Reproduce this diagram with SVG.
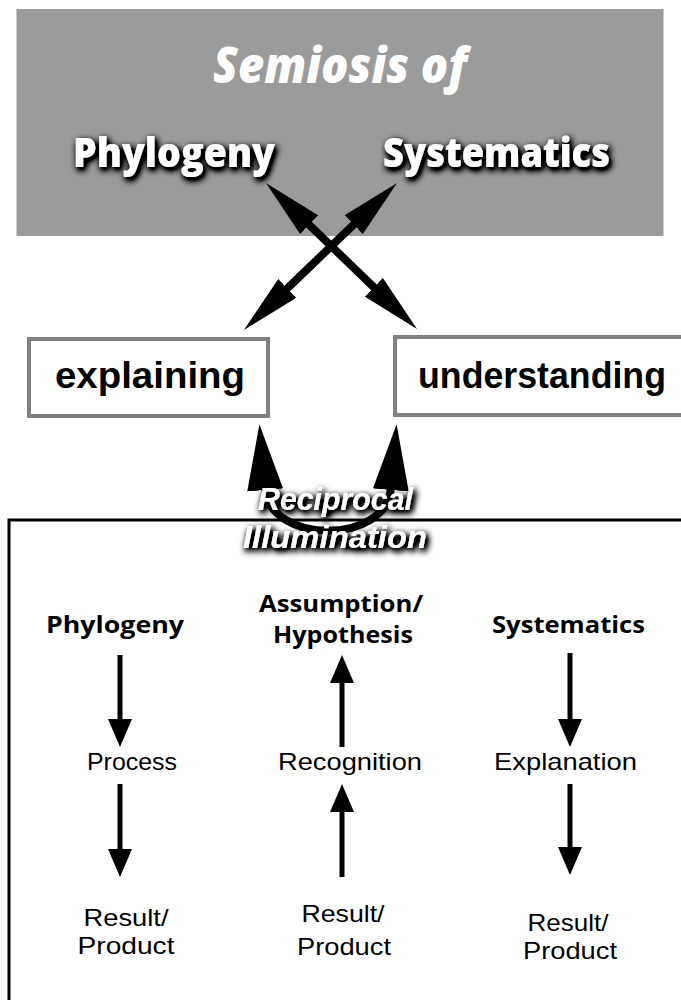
<svg xmlns="http://www.w3.org/2000/svg" width="681" height="1000" viewBox="0 0 681 1000">
  <style>
    .sans { font-family: "Open Sans", "Noto Sans", "Liberation Sans", sans-serif; }
    .tight { font-family: "Liberation Sans", Arial, sans-serif; }
    .title { font-weight: 800; font-style: italic; fill: #ffffff; }
    .head { font-weight: 800; fill: #ffffff; }
    .boxlabel { font-weight: 700; fill: #000000; font-size: 37px; }
    .colhead { font-weight: 700; fill: #000000; font-size: 23px; }
    .step { font-weight: 400; fill: #000000; font-size: 24px; }
    .box { fill: #ffffff; stroke: #808080; stroke-width: 4; }
    .frame { fill: none; stroke: #000000; stroke-width: 3; }
    .big { fill: none; stroke: #000000; stroke-width: 8; }
    .thin { fill: none; stroke: #000000; stroke-width: 5; }
  </style>
  <defs>
    <!-- dark soft halo under white lettering -->
    <filter id="halo" x="-20%" y="-40%" width="140%" height="180%">
      <feGaussianBlur in="SourceAlpha" stdDeviation="3.5"/>
      <feOffset dx="2" dy="3"/>
      <feComponentTransfer><feFuncA type="linear" slope="2.2"/></feComponentTransfer>
      <feMerge><feMergeNode/><feMergeNode in="SourceGraphic"/></feMerge>
    </filter>
    <!-- long heads for the crossing double arrows -->
    <marker id="headX" markerUnits="userSpaceOnUse" viewBox="0 -13 60 26" refX="2" refY="0" markerWidth="60" markerHeight="26" orient="auto-start-reverse">
      <path d="M0,-13 L60,0 L0,13 z" fill="#000"/>
    </marker>
    <!-- heads on the reciprocal loop -->
    <marker id="headR" markerUnits="userSpaceOnUse" viewBox="0 -18 66 36" refX="2" refY="0" markerWidth="66" markerHeight="36" orient="auto-start-reverse">
      <path d="M0,-18 L66,0 L0,18 z" fill="#000"/>
    </marker>
    <!-- small heads in the lower panel -->
    <marker id="headS" markerUnits="userSpaceOnUse" viewBox="0 -12 28 24" refX="1" refY="0" markerWidth="28" markerHeight="24" orient="auto">
      <path d="M0,-12 L28,0 L0,12 z" fill="#000"/>
    </marker>
  </defs>

  <!-- lower panel frame -->
  <g id="panel-frame">
    <path class="frame" d="M9,1000 V520 H681"/>
  </g>

  <!-- header band -->
  <g id="semiosis">
    <rect x="16.5" y="9" width="647" height="227" fill="#9b9b9b"/>
    <text class="sans title" x="340" y="83" font-size="50" text-anchor="middle" textLength="254" lengthAdjust="spacingAndGlyphs">Semiosis of</text>
  </g>
  <g id="top-phylogeny">
    <text class="sans head" x="174" y="167" font-size="41" text-anchor="middle" textLength="202" lengthAdjust="spacingAndGlyphs" filter="url(#halo)">Phylogeny</text>
  </g>
  <g id="top-systematics">
    <text class="sans head" x="496.5" y="167" font-size="41" text-anchor="middle" textLength="227" lengthAdjust="spacingAndGlyphs" filter="url(#halo)">Systematics</text>
  </g>

  <!-- middle boxes -->
  <g id="explaining">
    <rect class="box" x="29" y="339" width="239" height="77"/>
    <text class="tight boxlabel" x="150" y="388" text-anchor="middle" textLength="190" lengthAdjust="spacingAndGlyphs">explaining</text>
  </g>
  <g id="understanding">
    <!-- box runs on past the right edge, so only three sides show -->
    <rect x="395" y="337" width="286" height="78" fill="#ffffff"/>
    <path class="box" fill="none" d="M681,337 H395 V415 H681"/>
    <text class="tight boxlabel" x="542" y="388" text-anchor="middle" textLength="248" lengthAdjust="spacingAndGlyphs">understanding</text>
  </g>

  <!-- connectors -->
  <g id="connectors">
    <!-- crossing double arrows -->
    <line class="big" x1="307.7" y1="223.3" x2="375.3" y2="288.7" marker-start="url(#headX)" marker-end="url(#headX)"/>
    <line class="big" x1="355.2" y1="223.2" x2="285.8" y2="289.8" marker-start="url(#headX)" marker-end="url(#headX)"/>
    <!-- reciprocal loop -->
    <path class="big" d="M265,488 C270,545 386,545 391,488" marker-start="url(#headR)" marker-end="url(#headR)"/>
    <!-- Phylogeny column -->
    <line class="thin" x1="120" y1="655" x2="120" y2="720" marker-end="url(#headS)"/>
    <line class="thin" x1="120" y1="784" x2="120" y2="850" marker-end="url(#headS)"/>
    <!-- Assumption column -->
    <line class="thin" x1="342" y1="747" x2="342" y2="682" marker-end="url(#headS)"/>
    <line class="thin" x1="342" y1="877" x2="342" y2="811" marker-end="url(#headS)"/>
    <!-- Systematics column -->
    <line class="thin" x1="570" y1="653" x2="570" y2="720" marker-end="url(#headS)"/>
    <line class="thin" x1="570" y1="784" x2="570" y2="848" marker-end="url(#headS)"/>
  </g>

  <g id="reciprocal-illumination">
    <text class="tight title" font-weight="700" x="335.5" y="510" font-size="31" text-anchor="middle" textLength="155" lengthAdjust="spacingAndGlyphs" filter="url(#halo)">Reciprocal</text>
    <text class="tight title" font-weight="700" x="335" y="548" font-size="31" text-anchor="middle" textLength="184" lengthAdjust="spacingAndGlyphs" filter="url(#halo)">Illumination</text>
  </g>

  <!-- lower panel columns -->
  <g id="col-phylogeny">
    <text class="sans colhead" x="115" y="633" text-anchor="middle" textLength="138" lengthAdjust="spacingAndGlyphs">Phylogeny</text>
  </g>
  <g id="col-process">
    <text class="tight step" x="132" y="770" text-anchor="middle" textLength="90" lengthAdjust="spacingAndGlyphs">Process</text>
  </g>
  <g id="col-result-1">
    <text class="tight step" x="126" y="926" text-anchor="middle" textLength="85" lengthAdjust="spacingAndGlyphs">Result/</text>
    <text class="tight step" x="126" y="954" text-anchor="middle" textLength="97" lengthAdjust="spacingAndGlyphs">Product</text>
  </g>

  <g id="col-assumption">
    <text class="sans colhead" x="341" y="612" text-anchor="middle" textLength="164" lengthAdjust="spacingAndGlyphs">Assumption/</text>
    <text class="sans colhead" x="343" y="643" text-anchor="middle" textLength="140" lengthAdjust="spacingAndGlyphs">Hypothesis</text>
  </g>
  <g id="col-recognition">
    <text class="tight step" x="350" y="770" text-anchor="middle" textLength="144" lengthAdjust="spacingAndGlyphs">Recognition</text>
  </g>
  <g id="col-result-2">
    <text class="tight step" x="343" y="922" text-anchor="middle" textLength="83" lengthAdjust="spacingAndGlyphs">Result/</text>
    <text class="tight step" x="344" y="955" text-anchor="middle" textLength="94" lengthAdjust="spacingAndGlyphs">Product</text>
  </g>

  <g id="col-systematics">
    <text class="sans colhead" x="568.5" y="633" text-anchor="middle" textLength="153" lengthAdjust="spacingAndGlyphs">Systematics</text>
  </g>
  <g id="col-explanation">
    <text class="tight step" x="565.5" y="770" text-anchor="middle" textLength="143" lengthAdjust="spacingAndGlyphs">Explanation</text>
  </g>
  <g id="col-result-3">
    <text class="tight step" x="568" y="931" text-anchor="middle" textLength="81" lengthAdjust="spacingAndGlyphs">Result/</text>
    <text class="tight step" x="570" y="959" text-anchor="middle" textLength="94" lengthAdjust="spacingAndGlyphs">Product</text>
  </g>
</svg>
